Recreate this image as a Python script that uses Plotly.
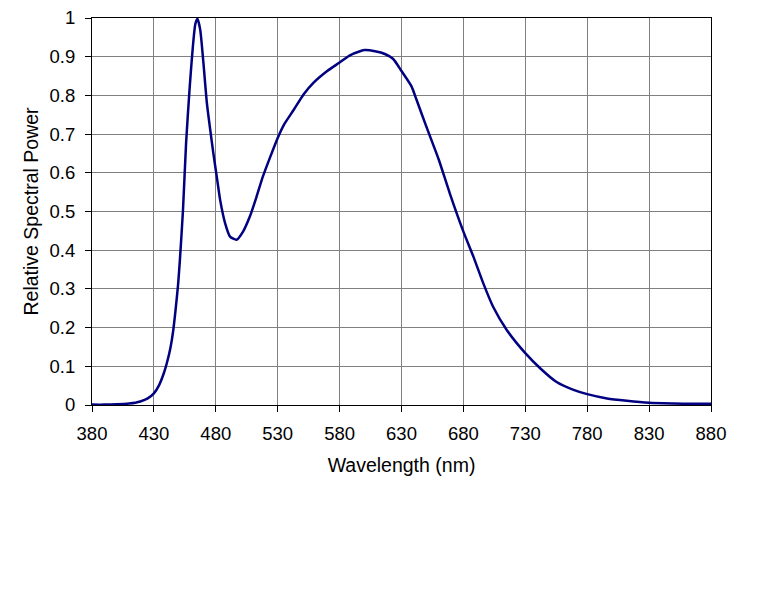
import plotly.graph_objects as go

wavelength_nm = [380, 390, 400, 410, 415, 419, 425, 430, 434, 438, 441, 443.5, 445.5, 447.5, 449.5, 451, 453.5, 456, 459,
                 461.5, 463.5, 465.2, 467.4, 470, 472.8, 475.5, 478, 481, 483.5, 487.5, 491.5, 496.8, 502, 507.5,
                 513, 518, 523.6, 530, 535, 543, 551, 559, 570, 580, 588, 596.5, 600.5, 608.6, 616.6, 623.3,
                 630, 638, 642, 650, 660, 669, 680, 688, 696, 704, 715, 730, 742, 755, 769, 780, 796, 812,
                 830, 850, 865, 880]
relative_power = [0.001, 0.001, 0.002, 0.004, 0.006, 0.009, 0.017, 0.03, 0.05, 0.082, 0.115, 0.15, 0.19, 0.246, 0.31, 0.375,
                  0.504, 0.677, 0.825, 0.927, 0.985, 0.998, 0.97, 0.884, 0.78, 0.711, 0.651, 0.585, 0.53, 0.47,
                  0.435, 0.427, 0.448, 0.487, 0.539, 0.59, 0.638, 0.69, 0.724, 0.763, 0.803, 0.833, 0.863,
                  0.885, 0.903, 0.914, 0.917, 0.914, 0.907, 0.894, 0.863, 0.824, 0.79, 0.72, 0.635, 0.547,
                  0.448, 0.384, 0.315, 0.254, 0.194, 0.134, 0.095, 0.06, 0.039, 0.028, 0.017, 0.011, 0.006,
                  0.004, 0.003, 0.003]

x_ticks = list(range(380, 881, 50))
y_ticks = [0, 0.1, 0.2, 0.3, 0.4, 0.5, 0.6, 0.7, 0.8, 0.9, 1]
y_tick_labels = ["0", "0.1", "0.2", "0.3", "0.4", "0.5", "0.6", "0.7", "0.8", "0.9", "1"]

fig = go.Figure()
fig.add_trace(go.Scatter(
    x=wavelength_nm, y=relative_power, mode="lines",
    line=dict(color="#000080", width=2.5, shape="spline", smoothing=0.6),
    showlegend=False, hoverinfo="skip", cliponaxis=False,
))

family = "Liberation Sans, Arial, sans-serif"
tick_font = dict(family=family, size=18.5, color="black")
title_font = dict(family=family, size=19.5, color="black")

fig.update_layout(
    width=768, height=614,
    margin=dict(l=84, r=65, t=10, b=217, autoexpand=False),
    paper_bgcolor="white", plot_bgcolor="white",
    font=tick_font,
    xaxis=dict(
        range=[380, 880], tickvals=x_ticks, ticktext=[str(v) for v in x_ticks],
        showgrid=True, gridcolor="#808080", gridwidth=1,
        showline=True, linecolor="black", linewidth=1, mirror=True,
        ticks="outside", ticklen=6, tickcolor="black",
        zeroline=False, automargin=False, ticklabelstandoff=6,
        ticklabeloverflow="allow",
        title=dict(text="Wavelength (nm)", font=title_font, standoff=15),
        tickfont=tick_font,
    ),
    yaxis=dict(
        range=[0, 1], tickvals=y_ticks, ticktext=y_tick_labels,
        showgrid=True, gridcolor="#808080", gridwidth=1,
        showline=True, linecolor="black", linewidth=1, mirror=True,
        ticks="outside", ticklen=6, tickcolor="black",
        zeroline=False, automargin=False, ticklabelstandoff=6,
        ticklabeloverflow="allow",
        title=dict(text="Relative Spectral Power", font=title_font, standoff=5),
        tickfont=tick_font,
    ),
)

fig.write_html("out.html")
